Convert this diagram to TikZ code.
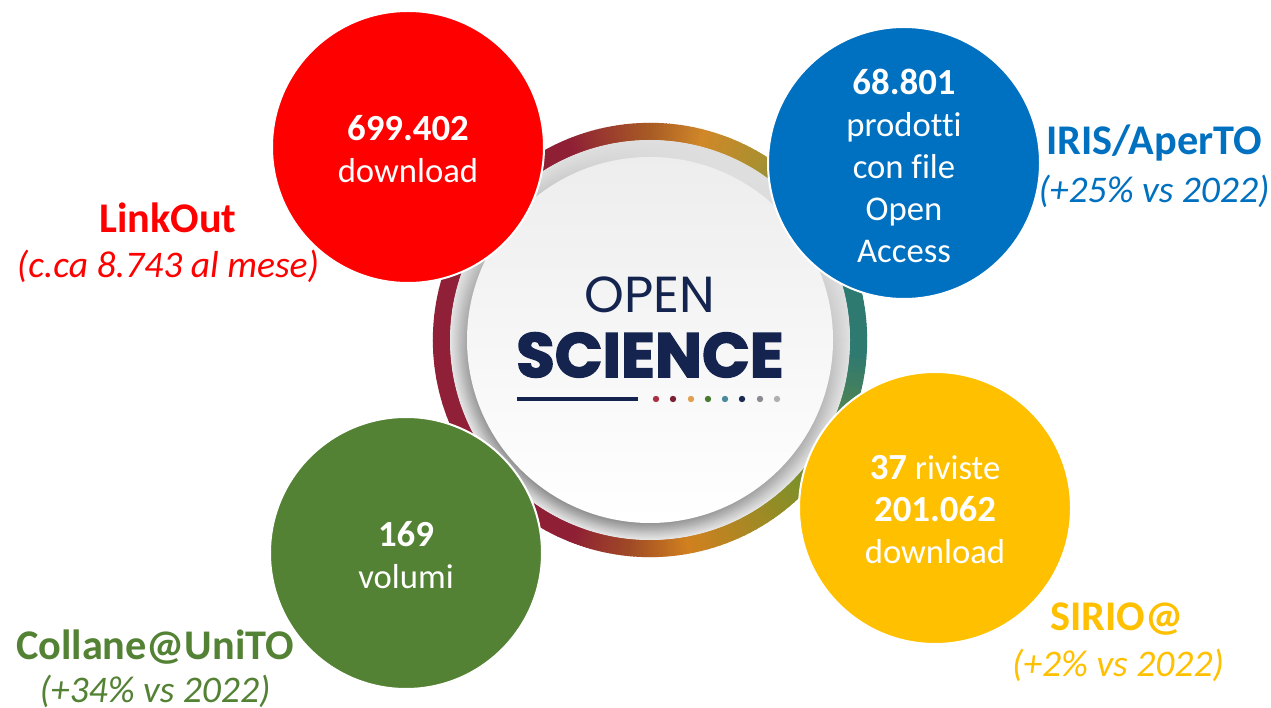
\documentclass[tikz,border=0pt]{standalone}
\usepackage{fontspec}
\setmainfont[Ligatures=CommonOff]{Carlito}
\newfontfamily\logofont{Poppins}
\newfontfamily\logoboldfont[FakeBold=2.4]{Poppins Bold}
\newcommand{\bubblenum}[1]{{\fontsize{27.6pt}{31.5pt}\selectfont\bfseries #1}}
\definecolor{cRed}{HTML}{FF0000}
\definecolor{cBlue}{HTML}{0070C0}
\definecolor{cGreen}{HTML}{548235}
\definecolor{cYellow}{HTML}{FFC000}
\definecolor{navy}{HTML}{14244F}
\definecolor{s1}{HTML}{8F2038}
\definecolor{s2}{HTML}{8E1F35}
\definecolor{s3}{HTML}{A85A25}
\definecolor{s4}{HTML}{D08828}
\definecolor{s5}{HTML}{A89030}
\definecolor{s6}{HTML}{2F7A70}
\definecolor{s7}{HTML}{7F9028}
\definecolor{s8}{HTML}{D0801F}
\definecolor{s9}{HTML}{A04A25}
\tikzset{
  x=0.75pt,y=0.75pt,
  bubble/.style={circle,draw=white,line width=1.5pt,minimum size=204pt,inner sep=0pt},
  inbubble/.style={text=white,align=center,font=\fontsize{26pt}{31.5pt}\selectfont,inner sep=0pt},
  headlabel/.style={font=\fontsize{31.7pt}{36pt}\selectfont\bfseries,inner sep=0pt},
  sublabel/.style={font=\fontsize{28.2pt}{33pt}\selectfont\itshape,inner sep=0pt},
  logodot/.style={circle,inner sep=0pt,minimum size=4.8pt}
}
\begin{document}
\begin{tikzpicture}
\useasboundingbox (0,0) rectangle (1271,707);
\fill[white] (0,0) rectangle (1271,707);
\begin{scope}[shift={(650,367)}]
  % coloured ring
  \foreach \a/\b/\ca/\cb in {
     -180/-112/s1/s2, -112/-96/s2/s9, -96/-80/s9/s8, -80/-45/s8/s7, -45/-5/s7/s6,
     -5/25/s6/s6, 25/57/s6/s5, 57/75/s5/s4, 75/90/s4/s3, 90/112/s3/s2, 112/180/s2/s1}{
    \foreach \i in {0,...,19}{
      \pgfmathsetmacro\st{\a+(\b-\a)*\i/20}
      \pgfmathsetmacro\en{\a+(\b-\a)*(\i+1)/20+0.3}
      \pgfmathtruncatemacro\p{\i*5}
      \draw[line width=13pt,color={\cb!\p!\ca}] (\st:208.5) arc[start angle=\st,end angle=\en,radius=208.5];
    }
  }
  % grey bevel
  \foreach \r in {0,...,17}{
    \pgfmathsetmacro\rad{200-\r}
    \pgfmathtruncatemacro\v{10+\r*36/17}
    \shade[top color={black!13!white},middle color={black!11!white},bottom color={black!\v!white},shading angle=-25] (0,0) circle[radius=\rad];
  }
  % white disc
  \shade[top color={black!7!white},bottom color=white] (0,0) circle[radius=183];
\end{scope}
% logo
\node[inner sep=0pt,text=navy,font=\logofont\fontsize{38pt}{42pt}\selectfont] (open) at (650,412) {OPEN};
\node[inner sep=0pt,text=navy,font=\logoboldfont\fontsize{47pt}{50pt}\selectfont] (science) at (650,352) {SCIENCE};
\coordinate (ruleL) at (517,308);
\coordinate (ruleR) at (638,308);
\draw[navy,line width=3pt] (ruleL) -- (ruleR);
\foreach \x/\c in {656/A83045,673/7A2035,691/E0A050,708/4A7A30,725/4A8A9A,742/1A2A50,760/8A8A90,777/B0B0B0}{
  \definecolor{dotc}{HTML}{\c}
  \node[logodot,fill=dotc] (dot\x) at (\x,308) {};
}
% bubbles
\node[bubble,fill=cRed] (red) at (408,560) {};
\node[bubble,fill=cBlue] (blue) at (904,544) {};
\node[bubble,fill=cGreen] (green) at (406,154) {};
\node[bubble,fill=cYellow] (yellow) at (935,199) {};
% bubble texts
\node[inbubble] (redt) at (408,558) {\bubblenum{699.402}\\download};
\node[inbubble] (bluet) at (904,541) {\bubblenum{68.801}\\prodotti\\con file\\Open\\Access};
\node[inbubble] (greent) at (406,152) {\bubblenum{169}\\volumi};
\node[inbubble] (yellowt) at (935,197) {\bubblenum{37} riviste\\\bubblenum{201.062}\\download};
% outer labels
\node[headlabel,text=cRed] (linkout) at (168,489) {LinkOut};
\node[sublabel,text=cRed] (linkoutsub) at (168,441) {(c.ca 8.743 al mese)};
\node[headlabel,text=cBlue] (iris) at (1154,564) {IRIS/AperTO};
\node[sublabel,text=cBlue] (irissub) at (1154,516) {(+25\% vs 2022)};
\node[headlabel,text=cYellow] (sirio) at (1117,88) {SIRIO@};
\node[sublabel,text=cYellow] (siriosub) at (1118,42) {(+2\% vs 2022)};
\node[headlabel,text=cGreen] (collane) at (155,60) {Collane@UniTO};
\node[sublabel,text=cGreen] (collanesub) at (155,16) {(+34\% vs 2022)};
\end{tikzpicture}
\end{document}
